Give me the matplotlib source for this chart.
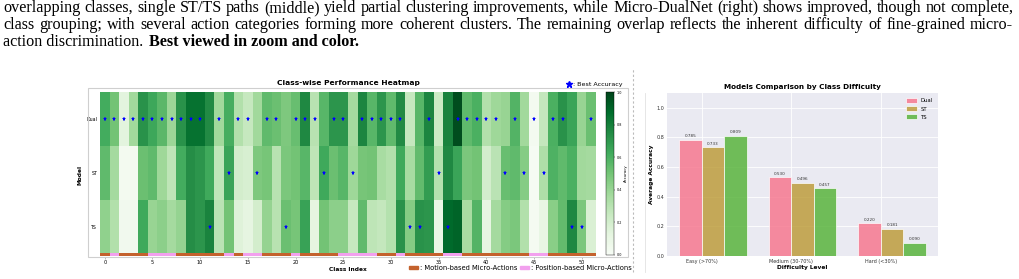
import numpy as np
import matplotlib
matplotlib.use("Agg")
import matplotlib.pyplot as plt
from matplotlib.patches import Patch, Rectangle
from matplotlib.lines import Line2D

# per-class accuracy (classes 0..51)
models = ["Dual", "ST", "TS"]
dual_acc = [0.62, 0.50, 0.13, 0.37, 0.72, 0.64, 0.56, 0.39, 0.72, 0.85, 0.85, 0.75, 0.37,
            0.61, 0.32, 0.25, 0.37, 0.55, 0.52, 0.47, 0.53, 0.76, 0.30, 0.57, 0.71, 0.71,
            0.36, 0.77, 0.57, 0.71, 0.55, 0.75, 0.25, 0.57, 0.77, 0.23, 0.78, 0.97, 0.55,
            0.60, 0.32, 0.38, 0.40, 0.58, 0.37, 0.03, 0.26, 0.60, 0.72, 0.65, 0.40, 0.52]
st_acc = [0.55, 0.36, 0.03, 0.03, 0.52, 0.55, 0.38, 0.28, 0.62, 0.74, 0.71, 0.63, 0.27,
          0.65, 0.20, 0.18, 0.47, 0.49, 0.30, 0.48, 0.50, 0.57, 0.28, 0.63, 0.52, 0.57,
          0.38, 0.49, 0.50, 0.35, 0.32, 0.63, 0.35, 0.54, 0.68, 0.31, 0.76, 0.65, 0.48,
          0.50, 0.20, 0.29, 0.53, 0.55, 0.45, 0.01, 0.33, 0.59, 0.55, 0.60, 0.37, 0.36]
ts_acc = [0.42, 0.32, 0.04, 0.04, 0.63, 0.40, 0.43, 0.36, 0.41, 0.74, 0.71, 0.78, 0.29,
          0.50, 0.15, 0.12, 0.20, 0.41, 0.30, 0.52, 0.49, 0.66, 0.12, 0.50, 0.43, 0.43,
          0.25, 0.55, 0.28, 0.26, 0.31, 0.72, 0.45, 0.72, 0.71, 0.09, 0.88, 0.90, 0.35,
          0.58, 0.11, 0.36, 0.45, 0.48, 0.32, 0.02, 0.10, 0.44, 0.54, 0.76, 0.48, 0.17]
# M = motion-based, P = position-based micro-action
class_type = list("MPMMMPPPMMMMMPMPPMMMPMMMMPPPPMMPMMMMPPMMMMMMMPPMMMMM")

# average accuracy by difficulty
difficulty = ["Easy (>70%)", "Medium (30-70%)", "Hard (<30%)"]
dual_avg = [0.785, 0.530, 0.220]
st_avg = [0.733, 0.496, 0.181]
ts_avg = [0.809, 0.457, 0.090]

caption1 = ("overlapping classes, single ST/TS paths (middle) yield partial clustering improvements, "
            "while Micro-DualNet (right) shows improved, though not complete,")
caption2 = ("class grouping; with several action categories forming more coherent clusters. "
            "The remaining overlap reflects the inherent difficulty of fine-grained micro-")
caption3 = "action discrimination."
caption3b = "Best viewed in zoom and color."

W, H = 1020, 279
fig = plt.figure(figsize=(W / 100, H / 100), dpi=100)
fig.patch.set_facecolor("white")


def px(x0, y0, x1, y1):
    # pixel box (top-left origin) -> figure rect
    return [x0 / W, 1 - y1 / H, (x1 - x0) / W, (y1 - y0) / H]


# ---------- caption text, justified ----------
renderer = fig.canvas.get_renderer()
serif = "Liberation Serif"
cap_size = 11.6


def justified(text, ybase, size, x0=3, x1=1013):
    words = text.split(" ")
    arts = [fig.text(0, 1 - ybase / H, w, fontsize=size, family=serif, va="baseline") for w in words]
    widths = [a.get_window_extent(renderer).width for a in arts]
    gap = (x1 - x0 - sum(widths)) / (len(words) - 1)
    x = x0
    for a, w in zip(arts, widths):
        a.set_x(x / W)
        x += w + gap


justified(caption1, 12, cap_size)
justified(caption2, 29, cap_size)
t3 = fig.text(3 / W, 1 - 46 / H, caption3 + " ", fontsize=cap_size, family=serif, va="baseline")
w3 = t3.get_window_extent(renderer).width
fig.text((3 + w3 + 2) / W, 1 - 46 / H, caption3b, fontsize=cap_size, family=serif,
         weight="bold", va="baseline")

# ---------- heatmap panel ----------
fig.add_artist(Rectangle((88 / W, 1 - 257 / H), 540 / W, 169 / H, transform=fig.transFigure,
                         fill=False, edgecolor="#cfcfcf", linewidth=0.8))

data = np.array([dual_acc, st_acc, ts_acc])
n_cls = data.shape[1]
ax = fig.add_axes(px(100, 92, 596, 257))
im = ax.imshow(data, cmap="Greens", vmin=0, vmax=1, aspect="auto",
               extent=(-0.5, n_cls - 0.5, 3, 0), interpolation="nearest")
best = data.argmax(axis=0)
ax.plot(np.arange(n_cls), best + 0.5, linestyle="none", marker="*", color="blue",
        markersize=3.6, markeredgewidth=0)
strip_cols = ["#c4622d" if c == "M" else "#f2a0ee" for c in class_type]
ax.bar(np.arange(n_cls), 0.05, bottom=2.985, width=1.0, color=strip_cols, linewidth=0)
ax.set_xlim(-0.5, n_cls - 0.5)
ax.set_ylim(3.06, 0)
ax.set_xticks(np.arange(0, n_cls, 5))
ax.set_yticks([0.5, 1.5, 2.5])
ax.set_yticklabels(models)
ax.tick_params(axis="x", labelsize=3.6, length=1.5, width=0.4, pad=1, color="#888888")
ax.tick_params(axis="y", labelsize=3.4, length=0, pad=2)
for s in ax.spines.values():
    s.set_visible(False)
ax.set_xlabel("Class Index", fontsize=4.2, weight="bold", labelpad=1)
ax.set_ylabel("Model", fontsize=4.2, weight="bold", labelpad=3)
ax.set_title("Class-wise Performance Heatmap", fontsize=5.4, weight="bold", pad=5)

cax = fig.add_axes(px(606, 92, 614, 255))
cb = fig.colorbar(im, cax=cax, ticks=[0, 0.2, 0.4, 0.6, 0.8, 1.0])
cb.ax.tick_params(labelsize=2.4, length=1, width=0.3, pad=1)
cb.outline.set_linewidth(0.3)
cb.set_label("Accuracy", fontsize=2.8, labelpad=1)

star_h = Line2D([], [], linestyle="none", marker="*", color="blue", markersize=5)
fig.legend([star_h], [": Best Accuracy"], loc="center left", bbox_to_anchor=(563 / W, 1 - 84 / H),
           frameon=False, fontsize=4.6, handlelength=1, handletextpad=0.1, borderpad=0)

leg_h = [Patch(color="#c4622d"), Patch(color="#f2a0ee")]
fig.legend(leg_h, [": Motion-based Micro-Actions", ": Position-based Micro-Actions"],
           loc="center left", bbox_to_anchor=(406 / W, 1 - 268 / H), ncol=2, frameon=False,
           fontsize=4.9, handlelength=1.3, handleheight=0.4, handletextpad=0.2,
           columnspacing=0.5, borderpad=0)

# separator between the two figures
fig.add_artist(Line2D([633 / W, 633 / W], [1 - 272 / H, 1 - 68 / H], transform=fig.transFigure,
                      color="#bbbbbb", linewidth=0.8, linestyle=(0, (2, 2))))
fig.add_artist(Line2D([645 / W, 645 / W], [1 - 272 / H, 1 - 93 / H], transform=fig.transFigure,
                      color="#e2e2e2", linewidth=0.6))

# ---------- bar chart panel ----------
bx = fig.add_axes(px(667, 93, 938, 256))
bx.set_facecolor("#eaeaf2")
bx.grid(True, color="white", linewidth=0.6)
bx.set_axisbelow(True)
for s in bx.spines.values():
    s.set_visible(False)

x = np.arange(len(difficulty))
width = 0.25
bar_cols = ["#f77189", "#bb9832", "#50b131"]
for i, (name, vals) in enumerate(zip(models, [dual_avg, st_avg, ts_avg])):
    bars = bx.bar(x + i * width, vals, width, label=name, color=bar_cols[i], alpha=0.8,
                  edgecolor="white", linewidth=0.6)
    for b, v in zip(bars, vals):
        bx.text(b.get_x() + b.get_width() / 2, v + 0.012, f"{v:.3f}", ha="center", va="bottom",
                fontsize=3.0, color="#333333")

bx.set_ylim(0, 1.1)
bx.set_xticks(x + width / 2)
bx.set_xticklabels(difficulty)
bx.set_yticks([0, 0.2, 0.4, 0.6, 0.8, 1.0])
bx.tick_params(axis="both", labelsize=3.5, length=0, pad=2, labelcolor="#333333")
bx.set_xlabel("Difficulty Level", fontsize=4.2, weight="bold", labelpad=1)
bx.set_ylabel("Average Accuracy", fontsize=4.2, weight="bold", labelpad=2)
bx.set_title("Models Comparison by Class Difficulty", fontsize=5.2, weight="bold", pad=3)
bx.legend(loc="upper right", fontsize=3.8, frameon=False, handlelength=2.0, handleheight=1.0,
          handletextpad=0.7, labelspacing=0.55, borderaxespad=0.6)

fig.savefig("out.png", dpi=100)
